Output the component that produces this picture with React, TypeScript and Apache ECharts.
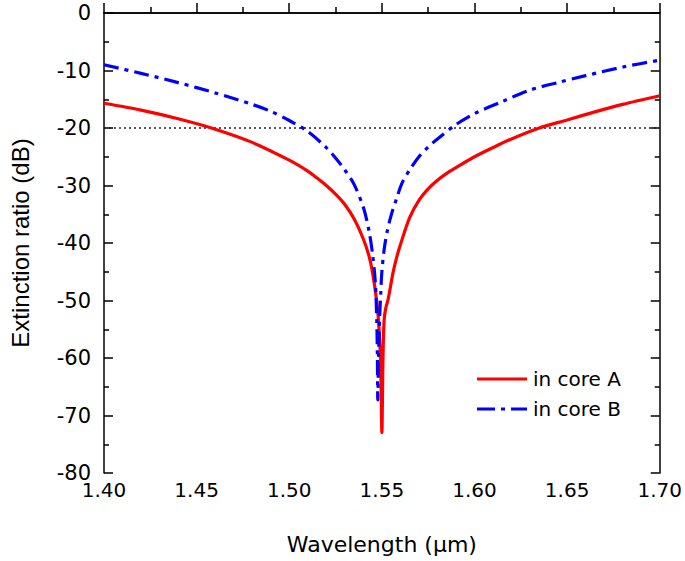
import React, { useEffect, useRef } from "react";
import * as echarts from "echarts";

const xTicks = [1.4, 1.45, 1.5, 1.55, 1.6, 1.65, 1.7];
const yTicks = [0, -10, -20, -30, -40, -50, -60, -70, -80];

const coreAx = [1.400, 1.420, 1.440, 1.460, 1.480, 1.500, 1.510, 1.515, 1.520, 1.525, 1.530, 1.535, 1.540, 1.543, 1.545, 1.547, 1.548, 1.549, 1.5495, 1.5500, 1.5506, 1.5512, 1.5520, 1.5535, 1.5560, 1.5580, 1.5600, 1.5650, 1.5700, 1.5750, 1.5800, 1.5850, 1.5900, 1.6000, 1.6100, 1.6200, 1.6350, 1.6500, 1.6650, 1.6800, 1.7000];
const coreAy = [-15.7, -16.9, -18.4, -20.2, -22.5, -25.6, -27.5, -28.7, -30.0, -31.5, -33.3, -35.8, -39.3, -42.2, -45.2, -49.6, -52.7, -58.0, -63.0, -73.0, -60.0, -53.5, -51.5, -49.6, -45.2, -42.5, -40.3, -35.6, -32.6, -30.6, -29.1, -27.9, -26.9, -25.0, -23.4, -21.9, -20.0, -18.6, -17.2, -15.9, -14.4];

const coreBx = [1.400, 1.420, 1.440, 1.460, 1.480, 1.490, 1.500, 1.510, 1.520, 1.525, 1.530, 1.535, 1.540, 1.543, 1.545, 1.5465, 1.5472, 1.5476, 1.5478, 1.5482, 1.5488, 1.5494, 1.5500, 1.5512, 1.5530, 1.5550, 1.5580, 1.5610, 1.5650, 1.5700, 1.5750, 1.5800, 1.5900, 1.6000, 1.6150, 1.6300, 1.6450, 1.6600, 1.6800, 1.7000];
const coreBy = [-9.0, -10.5, -12.1, -13.9, -15.9, -17.1, -18.7, -20.6, -23.4, -25.2, -27.3, -29.8, -33.8, -37.8, -42.0, -47.0, -53.0, -60.0, -67.3, -60.0, -53.0, -48.7, -45.0, -41.2, -37.8, -35.2, -32.2, -29.5, -27.3, -25.0, -23.3, -21.9, -19.4, -17.5, -15.4, -13.4, -12.1, -10.9, -9.4, -8.2];

const refLevel = -20;
const legendNames = ["in core A", "in core B"];

const FONT = "'DejaVu Sans', 'Liberation Sans', Arial, sans-serif";
const FONT_Y = "'Liberation Sans', Arial, sans-serif";

export default function App() {
  const ref = useRef<HTMLDivElement>(null);
  useEffect(() => {
    if (!ref.current) return;
    const chart = echarts.init(ref.current, undefined, { renderer: "svg" });
    const axisLine = { show: true, lineStyle: { color: "#000", width: 1.5 } };
    const tickY = { show: true, inside: true, length: 9, lineStyle: { color: "#000", width: 1.5 } };
    const minorY = { show: true, splitNumber: 2, length: 5, lineStyle: { color: "#000", width: 1.5 } };
    chart.setOption({
      animation: false,
      backgroundColor: "#fff",
      grid: { left: 97, right: 23, top: 13, bottom: 88, containLabel: false },
      graphic: [
        { type: "line", shape: { x1: 477, y1: 379, x2: 527, y2: 379 }, style: { stroke: "#ff0000", lineWidth: 3.2 } },
        {
          type: "text",
          x: 533,
          y: 379,
          style: { text: legendNames[0], fill: "#000", fontFamily: FONT, fontSize: 20, verticalAlign: "middle", align: "left" },
        },
        {
          type: "line",
          shape: { x1: 477, y1: 409, x2: 527, y2: 409 },
          style: { stroke: "#0000ff", lineWidth: 3.2, lineDash: [18, 6, 4, 6] },
        },
        {
          type: "text",
          x: 533,
          y: 409,
          style: { text: legendNames[1], fill: "#000", fontFamily: FONT, fontSize: 20, verticalAlign: "middle", align: "left" },
        },
      ],
      xAxis: [
        {
          type: "value",
          min: 1.4,
          max: 1.7,
          interval: 0.05,
          position: "bottom",
          axisLine,
          axisTick: { show: true, inside: true, length: 10, lineStyle: { color: "#000", width: 1.5 } },
          minorTick: { show: true, splitNumber: 2, length: 6, lineStyle: { color: "#000", width: 1.5 } },
          splitLine: { show: false },
          axisLabel: {
            fontFamily: FONT,
            fontSize: 20,
            color: "#000",
            margin: 7,
            formatter: (v: number) => (xTicks.some((t) => Math.abs(t - v) < 1e-6) ? v.toFixed(2) : ""),
          },
          name: "Wavelength (\u03bcm)",
          nameLocation: "middle",
          nameGap: 60,
          nameTextStyle: { fontFamily: FONT, fontSize: 22, color: "#000" },
        },
        {
          type: "value",
          min: 1.4,
          max: 1.7,
          interval: 0.05,
          position: "top",
          axisLine,
          axisTick: { show: false },
          axisLabel: { show: false },
          splitLine: { show: false },
        },
      ],
      yAxis: [
        {
          type: "value",
          min: -80,
          max: 0,
          interval: 10,
          position: "left",
          axisLine,
          axisTick: tickY,
          minorTick: minorY,
          splitLine: { show: false },
          axisLabel: {
            fontFamily: FONT,
            fontSize: 21,
            color: "#000",
            margin: 13,
            formatter: (v: number) => (yTicks.includes(v) ? String(v) : ""),
          },
          name: "Extinction ratio (dB)",
          nameLocation: "middle",
          nameGap: 72,
          nameTextStyle: { fontFamily: FONT_Y, fontSize: 24, color: "#000" },
        },
        {
          type: "value",
          min: -80,
          max: 0,
          interval: 10,
          position: "right",
          axisLine,
          axisTick: tickY,
          minorTick: minorY,
          axisLabel: { show: false },
          splitLine: { show: false },
        },
      ],
      series: [
        {
          name: "ref",
          type: "line",
          data: [
            [1.4, refLevel],
            [1.7, refLevel],
          ],
          symbol: "none",
          lineStyle: { color: "#222", width: 1.3, type: [2, 3] },
          silent: true,
          z: 1,
        },
        {
          name: legendNames[0],
          type: "line",
          data: coreAx.map((x, i) => [x, coreAy[i]]),
          symbol: "none",
          smooth: 0.3,
          color: "#ff0000",
          lineStyle: { color: "#ff0000", width: 3.2 },
          z: 2,
        },
        {
          name: legendNames[1],
          type: "line",
          data: coreBx.map((x, i) => [x, coreBy[i]]),
          symbol: "none",
          smooth: 0.3,
          color: "#0000ff",
          lineStyle: { color: "#0000ff", width: 3.2, type: [15, 6, 4, 6] },
          z: 3,
        },
      ],
    });
    return () => chart.dispose();
  }, []);
  return <div ref={ref} style={{ position: "fixed", left: 0, top: 0, width: 685, height: 561 }} />;
}
